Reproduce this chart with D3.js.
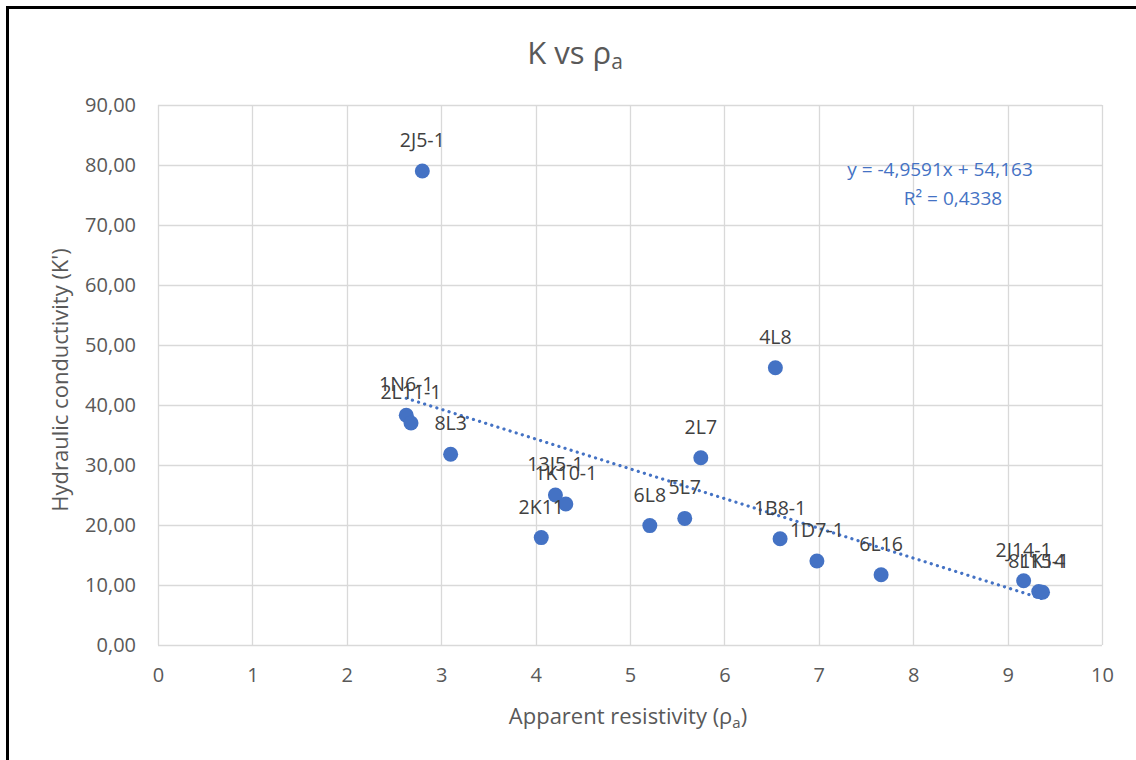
<!DOCTYPE html>
<html>
<head>
<meta charset="utf-8">
<script src="https://cdn.jsdelivr.net/npm/d3@7"></script>
<style>
  html, body { margin: 0; padding: 0; background: #fff; }
  svg { display: block; }
  text { font-family: "Open Sans", "Liberation Sans", sans-serif; }
</style>
</head>
<body>
<svg id="chart" width="1136" height="760"></svg>
<script>
// Sample identifiers and measured values
const samples = ["2J5-1", "1N6-1", "2L11-1", "8L3", "13J5-1", "1K10-1", "2K11", "6L8", "5L7", "2L7", "4L8", "1B8-1", "1D7-1", "6L16", "2J14-1", "8L15-1", "1K14"];
const resistivity = [2.80, 2.63, 2.68, 3.10, 4.21, 4.32, 4.06, 5.21, 5.58, 5.75, 6.54, 6.59, 6.98, 7.66, 9.17, 9.33, 9.37];
const conductivity = [79.0, 38.3, 37.0, 31.8, 25.0, 23.5, 17.9, 19.9, 21.1, 31.2, 46.2, 17.7, 14.0, 11.7, 10.7, 8.9, 8.8];

// Linear trend reported for the series
const slope = -4.9591;
const intercept = 54.163;
const rSquared = 0.4338;

const xTicks = [0, 1, 2, 3, 4, 5, 6, 7, 8, 9, 10];
const yTicks = [0, 10, 20, 30, 40, 50, 60, 70, 80, 90];

const svg = d3.select("#chart");
const blue = "#4472c4";
const grid = "#d9d9d9";
const textGray = "#595959";

// Outer chart frame
svg.append("rect")
  .attr("x", 7.5).attr("y", 7.5)
  .attr("width", 1140).attr("height", 770)
  .attr("fill", "#fff").attr("stroke", "#000").attr("stroke-width", 3);

const plot = { left: 158, right: 1102, top: 105, bottom: 645 };

const x = d3.scaleLinear().domain([0, 10]).range([plot.left, plot.right]);
const y = d3.scaleLinear().domain([0, 90]).range([plot.bottom, plot.top]);

// Comma decimal separator, plain hyphen for negatives
const dec = (v, p) => d3.format(`.${p}f`)(v).replace(".", ",").replace("−", "-");

// Gridlines
svg.append("g")
  .selectAll("line")
  .data(yTicks)
  .join("line")
  .attr("x1", plot.left).attr("x2", plot.right)
  .attr("y1", d => Math.round(y(d)) + 0.5).attr("y2", d => Math.round(y(d)) + 0.5)
  .attr("stroke", grid).attr("stroke-width", 1.3);

svg.append("g")
  .selectAll("line")
  .data(xTicks)
  .join("line")
  .attr("y1", plot.top).attr("y2", plot.bottom)
  .attr("x1", d => Math.round(x(d)) + 0.5).attr("x2", d => Math.round(x(d)) + 0.5)
  .attr("stroke", grid).attr("stroke-width", 1.3);

// Axes (labels only; lines come from the grid)
const xAxis = svg.append("g")
  .attr("transform", `translate(0,${plot.bottom})`)
  .call(d3.axisBottom(x).tickValues(xTicks).tickSize(0).tickPadding(23).tickFormat(d3.format("d")));
xAxis.select(".domain").remove();
xAxis.selectAll("text").attr("font-size", 20).attr("fill", textGray)
  .style("font-family", "'Open Sans', sans-serif");

const yAxis = svg.append("g")
  .attr("transform", `translate(${plot.left},0)`)
  .call(d3.axisLeft(y).tickValues(yTicks).tickSize(0).tickPadding(22).tickFormat(d => dec(d, 2)));
yAxis.select(".domain").remove();
yAxis.selectAll("text").attr("font-size", 20).attr("fill", textGray)
  .style("font-family", "'Open Sans', sans-serif");

// Trend line across the observed x range
const xMin = d3.min(resistivity), xMax = d3.max(resistivity);
svg.append("line")
  .attr("x1", x(xMin)).attr("y1", y(slope * xMin + intercept))
  .attr("x2", x(xMax)).attr("y2", y(slope * xMax + intercept))
  .attr("stroke", blue).attr("stroke-width", 3.2)
  .attr("stroke-linecap", "round")
  .attr("stroke-dasharray", "0.1 6.3");

const data = samples.map((s, i) => ({ name: s, rx: resistivity[i], k: conductivity[i] }));

// Points
svg.append("g")
  .selectAll("circle")
  .data(data)
  .join("circle")
  .attr("cx", d => x(d.rx)).attr("cy", d => y(d.k))
  .attr("r", 7.5)
  .attr("fill", blue);

// Data labels above each point
svg.append("g")
  .selectAll("text")
  .data(data)
  .join("text")
  .attr("x", d => x(d.rx)).attr("y", d => y(d.k) - 24)
  .attr("text-anchor", "middle")
  .attr("font-size", 19.5)
  .attr("fill", "#404040")
  .text(d => d.name);

// Trend equation
const eq = svg.append("g").attr("fill", blue).attr("font-size", 19).attr("text-anchor", "middle");
eq.append("text").attr("x", 940).attr("y", 176)
  .text(`y = ${dec(slope, 4)}x + ${dec(intercept, 3)}`);
eq.append("text").attr("x", 953).attr("y", 205)
  .text(`R² = ${dec(rSquared, 4)}`);

// Title
const title = svg.append("text")
  .attr("x", 575).attr("y", 64)
  .attr("text-anchor", "middle")
  .attr("font-size", 31)
  .attr("fill", textGray);
title.append("tspan").text("K vs ρ");
title.append("tspan").attr("font-size", 21).attr("dy", 5).text("a");

// Axis titles
const xt = svg.append("text")
  .attr("x", 628).attr("y", 724)
  .attr("text-anchor", "middle")
  .attr("font-size", 22)
  .attr("fill", textGray);
xt.append("tspan").text("Apparent resistivity (ρ");
xt.append("tspan").attr("font-size", 15).attr("dy", 4).text("a");
xt.append("tspan").attr("dy", -4).text(")");

svg.append("text")
  .attr("transform", `translate(68,${(plot.top + plot.bottom) / 2 + 5}) rotate(-90)`)
  .attr("text-anchor", "middle")
  .attr("font-size", 22)
  .attr("fill", textGray)
  .text("Hydraulic conductivity (K')");
</script>
</body>
</html>
